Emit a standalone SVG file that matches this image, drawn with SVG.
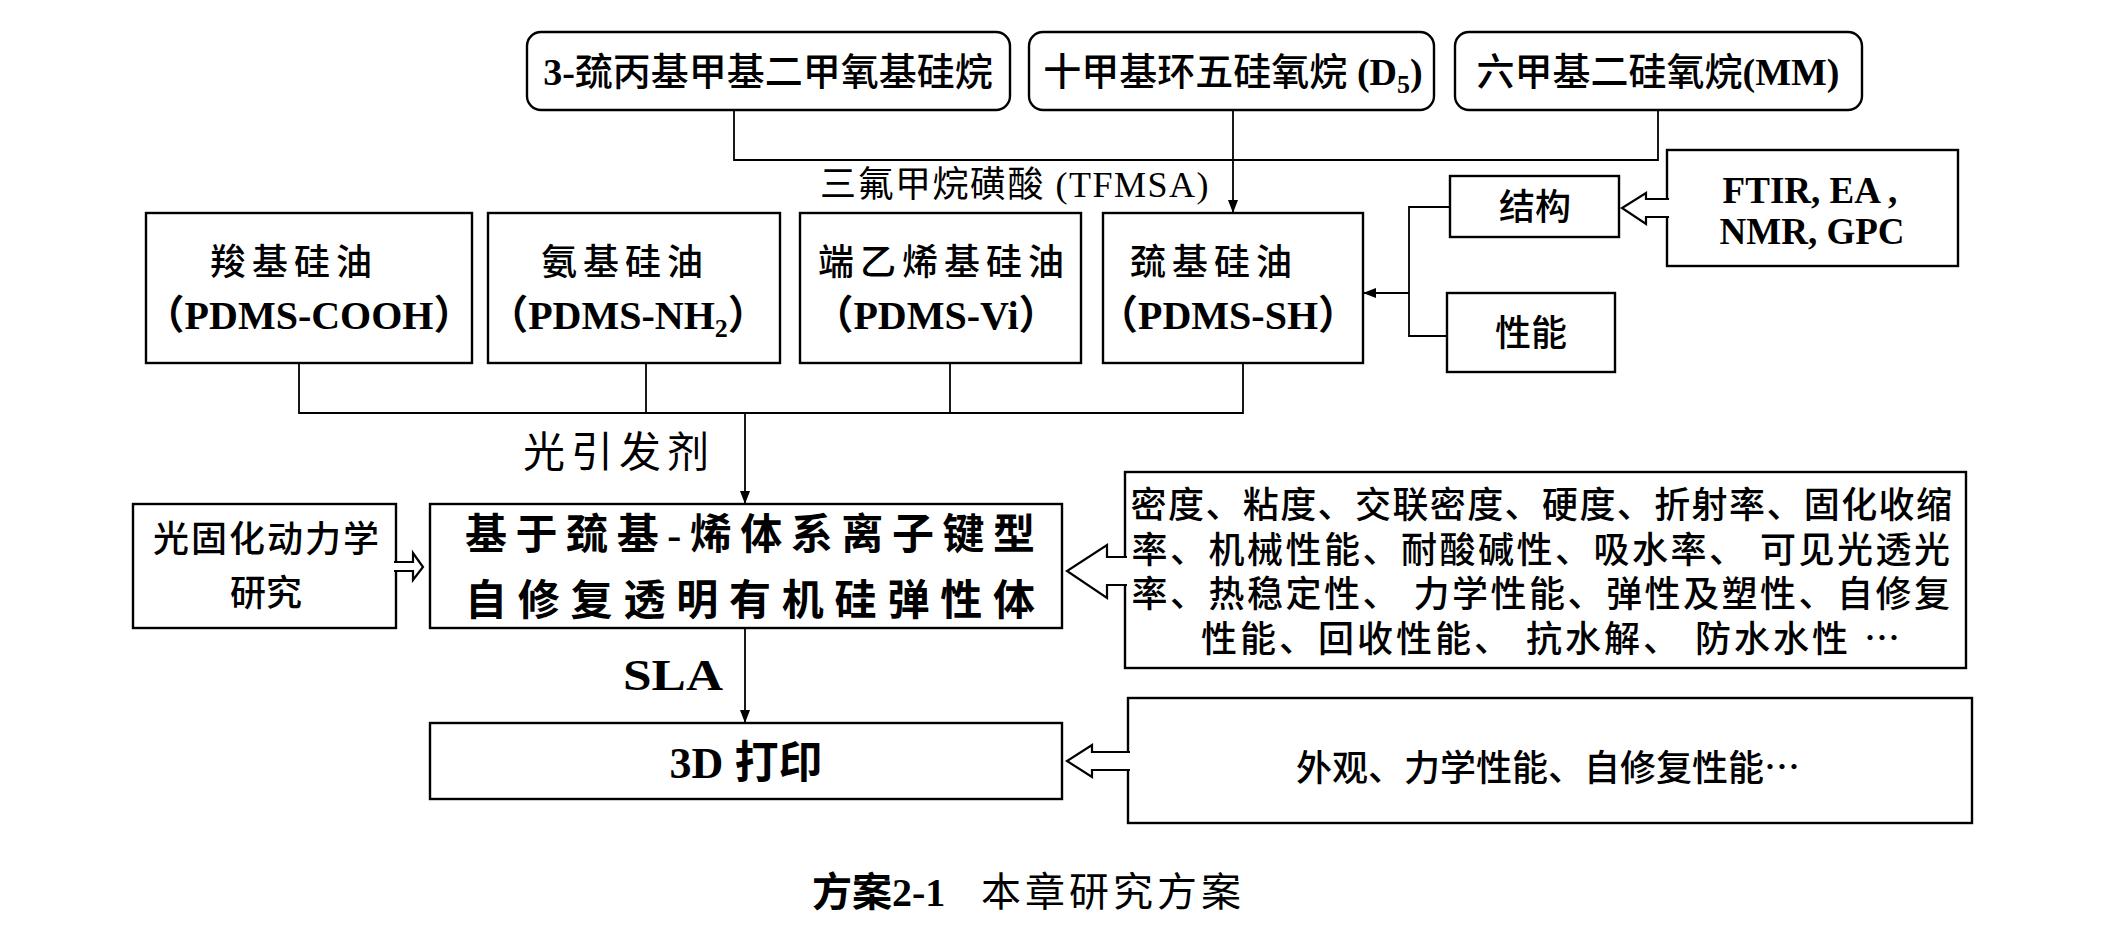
<svg xmlns="http://www.w3.org/2000/svg" width="2112" height="942" viewBox="0 0 2112 942">
  <defs>
    <marker id="arrow" markerUnits="userSpaceOnUse" markerWidth="14" markerHeight="10" refX="13" refY="5" orient="auto">
      <path d="M0,0 L13,5 L0,10 z" fill="#000"/>
    </marker>
    <style>
      .box { fill: #fff; stroke: #000; stroke-width: 2.4; }
      .line { fill: none; stroke: #000; stroke-width: 1.8; }
      .hollow { fill: #fff; stroke: #000; stroke-width: 2.2; stroke-linejoin: miter; }
      .cjk { font-family: "Noto Sans CJK SC", sans-serif; fill: #000; }
      .body { font-family: "Liberation Sans", "Noto Sans CJK SC", sans-serif; fill: #000; }
      .mix { font-family: "Liberation Serif", "Noto Sans CJK SC", serif; fill: #000; }
      .b { font-weight: bold; }
      .mid { text-anchor: middle; }
    </style>
  </defs>
  <rect width="2112" height="942" fill="#fff"/>

  <!-- raw materials -->
  <g id="n-mptms">
    <rect class="box" x="527" y="32" width="483" height="78" rx="14"/>
    <text class="mix mid" x="768" y="85" font-size="38" font-weight="500"><tspan class="b">3-</tspan>巯丙基甲基二甲氧基硅烷</text>
  </g>
  <g id="n-d5">
    <rect class="box" x="1029" y="32" width="405" height="78" rx="14"/>
    <text class="mix mid" x="1233" y="85" font-size="38" font-weight="500">十甲基环五硅氧烷 <tspan class="b">(D</tspan><tspan class="b" font-size="26" dy="8">5</tspan><tspan class="b" dy="-8">)</tspan></text>
  </g>
  <g id="n-mm">
    <rect class="box" x="1455" y="32" width="407" height="78" rx="14"/>
    <text class="mix mid" x="1658" y="85" font-size="38" font-weight="500">六甲基二硅氧烷<tspan class="b">(MM)</tspan></text>
  </g>

  <!-- silicone oils -->
  <g id="n-cooh">
    <rect class="box" x="146" y="213" width="326" height="150"/>
    <text class="cjk mid" x="294" y="275" font-size="36" font-weight="500" letter-spacing="6">羧基硅油</text>
    <text class="mix mid b" x="309" y="329" font-size="40">（PDMS-COOH）</text>
  </g>
  <g id="n-nh2">
    <rect class="box" x="488" y="213" width="292" height="150"/>
    <text class="cjk mid" x="625" y="275" font-size="36" font-weight="500" letter-spacing="6">氨基硅油</text>
    <text class="mix mid b" x="628" y="329" font-size="40">（PDMS-NH<tspan font-size="26" dy="8">2</tspan><tspan dy="-8">）</tspan></text>
  </g>
  <g id="n-vi">
    <rect class="box" x="800" y="213" width="281" height="150"/>
    <text class="cjk mid" x="944" y="275" font-size="36" font-weight="500" letter-spacing="6">端乙烯基硅油</text>
    <text class="mix mid b" x="936" y="329" font-size="40">（PDMS-Vi）</text>
  </g>
  <g id="n-sh">
    <rect class="box" x="1103" y="213" width="260" height="150"/>
    <text class="cjk mid" x="1214" y="275" font-size="36" font-weight="500" letter-spacing="6">巯基硅油</text>
    <text class="mix mid b" x="1228" y="329" font-size="40">（PDMS-SH）</text>
  </g>

  <!-- characterisation -->
  <g id="n-structure">
    <rect class="box" x="1450" y="176" width="169" height="61"/>
    <text class="cjk mid" x="1535" y="220" font-size="36" font-weight="500">结构</text>
  </g>
  <g id="n-property">
    <rect class="box" x="1447" y="293" width="168" height="79"/>
    <text class="cjk mid" x="1531" y="346" font-size="36" font-weight="500">性能</text>
  </g>
  <g id="n-methods">
    <rect class="box" x="1667" y="150" width="291" height="116"/>
    <text class="mix mid b" font-size="37"><tspan x="1810" y="203">FTIR, EA ,</tspan><tspan x="1812" y="244">NMR, GPC</tspan></text>
  </g>

  <!-- elastomer -->
  <g id="n-kinetics">
    <rect class="box" x="133" y="504" width="263" height="124"/>
    <text class="cjk mid" font-size="36" font-weight="500"><tspan x="267" y="552" letter-spacing="2">光固化动力学</tspan><tspan x="266" y="606">研究</tspan></text>
  </g>
  <g id="n-elastomer">
    <rect class="box" x="430" y="504" width="632" height="124"/>
    <text class="mix mid" x="750" y="549" font-size="42" font-weight="bold" textLength="570" lengthAdjust="spacing">基于巯基<tspan class="b">-</tspan>烯体系离子键型</text>
    <text class="cjk mid" x="750" y="615" font-size="42" font-weight="bold" textLength="570" lengthAdjust="spacing">自修复透明有机硅弹性体</text>
  </g>
  <g id="n-tests">
    <rect class="box" x="1125" y="472" width="841" height="196"/>
    <text class="body mid" font-size="36" font-weight="500">
      <tspan x="1547" y="518" letter-spacing="1.4">密度、粘度、交联密度、硬度、折射率、固化收缩</tspan>
      <tspan x="1547" y="563" letter-spacing="2.5">率、机械性能、耐酸碱性、吸水率、 可见光透光</tspan>
      <tspan x="1547" y="607" letter-spacing="2.5">率、热稳定性、 力学性能、弹性及塑性、自修复</tspan>
      <tspan x="1552" y="652" letter-spacing="3">性能、回收性能、 抗水解、 防水水性 <tspan font-family="Noto Sans CJK SC, sans-serif">…</tspan></tspan>
    </text>
  </g>

  <!-- printing -->
  <g id="n-print">
    <rect class="box" x="430" y="723" width="632" height="76"/>
    <text class="mix mid b" x="746" y="778" font-size="44">3D 打印</text>
  </g>
  <g id="n-print-tests">
    <rect class="box" x="1128" y="698" width="844" height="125"/>
    <text class="cjk mid" x="1548" y="781" font-size="36" font-weight="500">外观、力学性能、自修复性能…</text>
  </g>

  <!-- edge labels -->
  <g id="labels">
    <text class="mix" x="820" y="197" font-size="36" letter-spacing="1.5">三氟甲烷磺酸 (TFMSA)</text>
    <text class="cjk mid" x="619" y="467" font-size="42" letter-spacing="6">光引发剂</text>
    <text class="mix b" x="623" y="690" font-size="44" textLength="100" lengthAdjust="spacingAndGlyphs">SLA</text>
  </g>

  <!-- caption -->
  <text id="caption" class="mix" y="906" font-size="40"><tspan x="812" font-weight="bold">方案2-1</tspan><tspan x="981" letter-spacing="4">本章研究方案</tspan></text>

  <!-- connectors -->
  <g id="connectors">
    <polyline class="line" points="734,110 734,160 1658,160 1658,110"/>
    <line class="line" x1="1233" y1="110" x2="1233" y2="213" marker-end="url(#arrow)"/>

    <polyline class="line" points="299,363 299,413 1243,413 1243,363"/>
    <line class="line" x1="646" y1="363" x2="646" y2="413"/>
    <line class="line" x1="950" y1="363" x2="950" y2="413"/>
    <line class="line" x1="745" y1="413" x2="745" y2="504" marker-end="url(#arrow)"/>

    <polyline class="line" points="1450,207 1409,207 1409,336 1447,336"/>
    <line class="line" x1="1409" y1="293" x2="1363" y2="293" marker-end="url(#arrow)"/>

    <line class="line" x1="745" y1="628" x2="745" y2="723" marker-end="url(#arrow)"/>

    <!-- block arrows -->
    <path class="hollow" d="M1669,199 H1646 V193 L1622,208 L1646,224 V217 H1669"/>
    <path class="hollow" d="M394,562 H413 V553 L423,567 L413,580 V571 H394"/>
    <path class="hollow" d="M1127,557 H1107 V545 L1067,571 L1107,598 V585 H1127"/>
    <path class="hollow" d="M1130,752 H1092 V745 L1067,761 L1092,777 V770 H1130"/>
  </g>
</svg>
